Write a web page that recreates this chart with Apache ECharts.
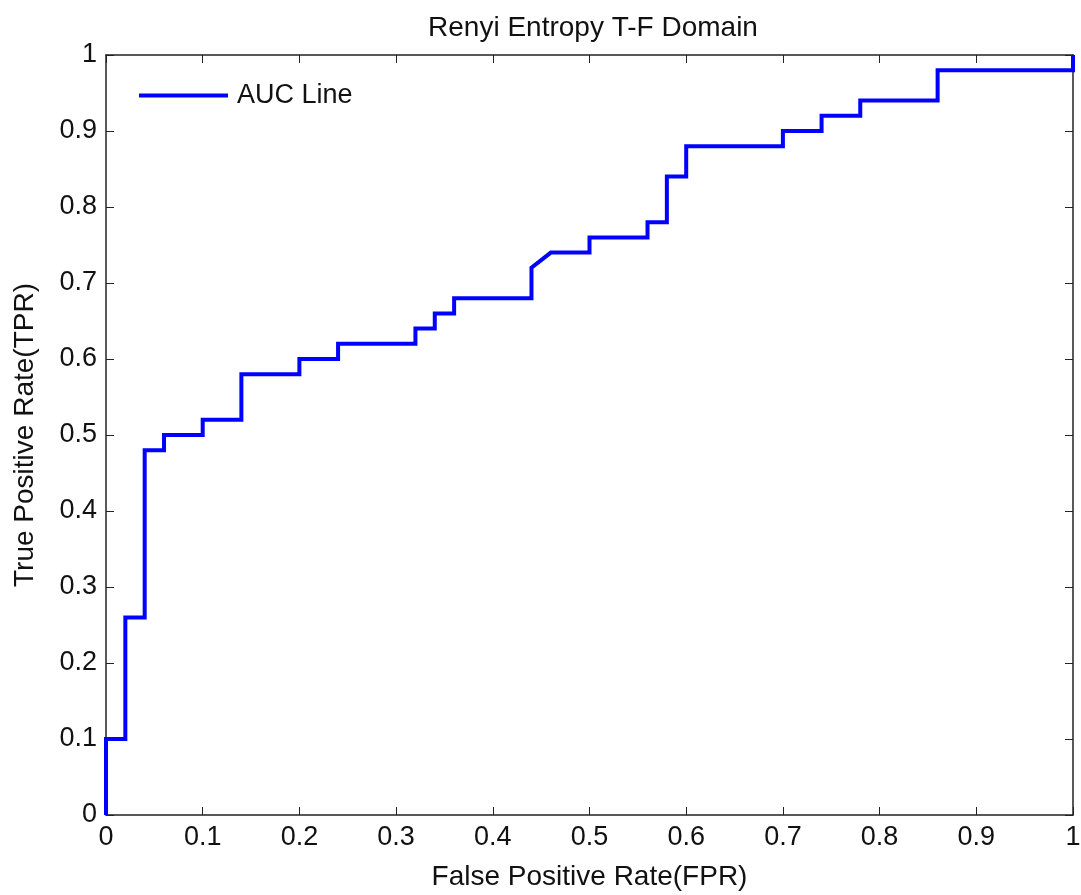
<!DOCTYPE html>
<html>
<head>
<meta charset="utf-8">
<script src="https://cdn.jsdelivr.net/npm/echarts@6/dist/echarts.min.js"></script>
<style>
  html, body { margin: 0; padding: 0; background: #ffffff; }
  #chart { width: 1081px; height: 895px; }
</style>
</head>
<body>
<div id="chart"></div>
<script>
// ROC curve vertices: false positive rate and true positive rate
const fpr = [0, 0, 0.02, 0.02, 0.04, 0.04, 0.06, 0.06, 0.10, 0.10, 0.14, 0.14, 0.20, 0.20,
  0.24, 0.24, 0.32, 0.32, 0.34, 0.34, 0.36, 0.36, 0.44, 0.44, 0.46, 0.50, 0.50, 0.56, 0.56,
  0.58, 0.58, 0.60, 0.60, 0.70, 0.70, 0.74, 0.74, 0.78, 0.78, 0.86, 0.86, 1.00, 1.00];
const tpr = [0, 0.10, 0.10, 0.26, 0.26, 0.48, 0.48, 0.50, 0.50, 0.52, 0.52, 0.58, 0.58, 0.60,
  0.60, 0.62, 0.62, 0.64, 0.64, 0.66, 0.66, 0.68, 0.68, 0.72, 0.74, 0.74, 0.76, 0.76, 0.78,
  0.78, 0.84, 0.84, 0.88, 0.88, 0.90, 0.90, 0.92, 0.92, 0.94, 0.94, 0.98, 0.98, 1.00];
const tickLabels = ['0', '0.1', '0.2', '0.3', '0.4', '0.5', '0.6', '0.7', '0.8', '0.9', '1'];

const titleText = 'Renyi Entropy T-F Domain';
const xName = 'False Positive Rate(FPR)';
const yName = 'True Positive Rate(TPR)';
const seriesName = 'AUC Line';

const points = fpr.map((x, i) => [x, tpr[i]]);
const FONT = 'Liberation Sans, Arial, sans-serif';
const AXIS_COLOR = '#222222';
const TEXT_COLOR = '#111111';
const fmt = v => tickLabels[Math.round(v * 10)];

const frameAxis = (pos, extra) => Object.assign({
  type: 'value', min: 0, max: 1, interval: 0.1, position: pos,
  axisLine: { show: true, onZero: false, lineStyle: { color: AXIS_COLOR, width: 1.5 } },
  axisTick: { show: true, inside: true, length: 8, lineStyle: { color: AXIS_COLOR, width: 1 } },
  splitLine: { show: false }
}, extra);

const chart = echarts.init(document.getElementById('chart'), null, { renderer: 'canvas' });
chart.setOption({
  backgroundColor: '#ffffff',
  animation: false,
  title: {
    text: titleText, left: 588, top: 9, textAlign: 'center',
    textStyle: { fontFamily: FONT, fontSize: 28, fontWeight: 'normal', color: TEXT_COLOR }
  },
  legend: {
    left: 139, top: 82, padding: 0, itemWidth: 89, itemHeight: 4, itemGap: 8,
    data: [{ name: seriesName, icon: 'rect' }],
    textStyle: { fontFamily: FONT, fontSize: 27, color: TEXT_COLOR, padding: [0, 0, 0, 4] }
  },
  grid: { left: 106, right: 8, top: 55, bottom: 80, containLabel: false, outerBoundsMode: 'none' },
  xAxis: [
    frameAxis('bottom', {
      name: xName, nameLocation: 'middle', nameGap: 48,
      nameTextStyle: { fontFamily: FONT, fontSize: 28, color: TEXT_COLOR },
      axisLabel: { show: true, margin: 9, formatter: fmt, fontFamily: FONT, fontSize: 27, color: TEXT_COLOR }
    }),
    frameAxis('top', { axisLabel: { show: false } })
  ],
  yAxis: [
    frameAxis('left', {
      name: yName, nameLocation: 'middle', nameGap: 67, nameRotate: 90,
      nameTextStyle: { fontFamily: FONT, fontSize: 28, color: TEXT_COLOR },
      axisLabel: { show: true, margin: 9, formatter: fmt, fontFamily: FONT, fontSize: 27, color: TEXT_COLOR }
    }),
    frameAxis('right', { axisLabel: { show: false } })
  ],
  series: [{
    name: seriesName, type: 'line', data: points,
    xAxisIndex: 0, yAxisIndex: 0,
    showSymbol: false, symbol: 'none', clip: false,
    lineStyle: { color: '#0000ff', width: 4, join: 'miter' },
    itemStyle: { color: '#0000ff' }
  }]
});
</script>
</body>
</html>
